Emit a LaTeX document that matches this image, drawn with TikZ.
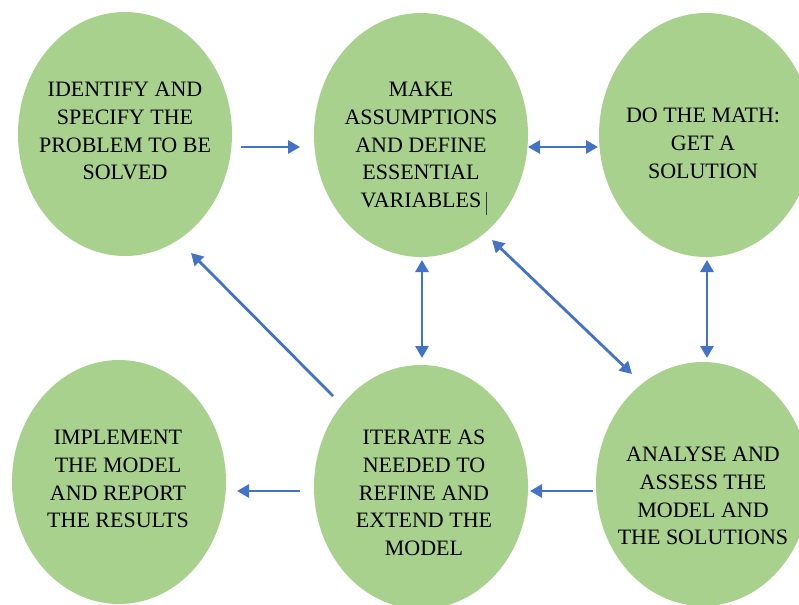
\documentclass[tikz,border=0pt]{standalone}
\usepackage{fontspec}
\setmainfont{Liberation Serif}
\usetikzlibrary{arrows.meta,shapes.geometric}
\definecolor{fillgreen}{HTML}{A9D18E}
\definecolor{arrowblue}{HTML}{4472C4}
\definecolor{cursorcol}{HTML}{3A3650}
\begin{document}
\begin{tikzpicture}[x=1pt,y=-1pt,
  bubble/.style={ellipse, fill=fillgreen, draw=none, minimum width=214pt, minimum height=244pt, inner sep=0pt},
  label text/.style={anchor=north, inner sep=0pt, align=center, text=black, font=\fontsize{22}{27.7}\selectfont},
  arr/.style={draw=arrowblue, line width=2.8pt, -{Triangle[length=12pt,width=13pt]}},
  darr/.style={draw=arrowblue, line width=2.8pt, {Triangle[length=12pt,width=13pt]}-{Triangle[length=12pt,width=13pt]}}]
\useasboundingbox (0,0) rectangle (799,604);
\fill[white] (0,0) rectangle (799,604);
% ellipses
\node[bubble] (e1) at (125,134) {};
\node[bubble] (e2) at (421,135) {};
\node[bubble] (e3) at (706,135) {};
\node[bubble] (e4) at (119,482) {};
\node[bubble] (e5) at (421,487) {};
\node[bubble] (e6) at (703,484) {};
% texts
\node[label text] (t1) at (125,82) {IDENTIFY AND\\SPECIFY THE\\PROBLEM TO BE\\SOLVED};
\node[label text] (t2) at (421,82) {MAKE\\ASSUMPTIONS\\AND DEFINE\\ESSENTIAL\\VARIABLES};
\node[label text] (t3) at (703,108) {DO THE MATH:\\GET A\\SOLUTION};
\node[label text] (t4) at (118,430) {IMPLEMENT\\THE MODEL\\AND REPORT\\THE RESULTS};
\node[label text] (t5) at (424,430) {ITERATE AS\\NEEDED TO\\REFINE AND\\EXTEND THE\\MODEL};
\node[label text] (t6) at (703,447) {ANALYSE AND\\ASSESS THE\\MODEL AND\\THE SOLUTIONS};
% text cursor
\coordinate (c1) at (486,192);
\coordinate (c2) at (486,215);
\draw[cursorcol, line width=0.9pt] (c1) -- (c2);
% arrow end points
\coordinate (a1s) at (241,147); \coordinate (a1e) at (300,147);
\coordinate (a2s) at (528,147); \coordinate (a2e) at (598,147);
\coordinate (a3s) at (333,396); \coordinate (a3e) at (191,253);
\coordinate (a4s) at (422,260); \coordinate (a4e) at (422,358);
\coordinate (a5s) at (492,240); \coordinate (a5e) at (632,374);
\coordinate (a6s) at (707,260); \coordinate (a6e) at (707,358);
\coordinate (a7s) at (593,491); \coordinate (a7e) at (530,491);
\coordinate (a8s) at (300,491); \coordinate (a8e) at (237,491);
\draw[arr] (a1s) -- (a1e);
\draw[darr] (a2s) -- (a2e);
\draw[arr] (a3s) -- (a3e);
\draw[darr] (a4s) -- (a4e);
\draw[darr] (a5s) -- (a5e);
\draw[darr] (a6s) -- (a6e);
\draw[arr] (a7s) -- (a7e);
\draw[arr] (a8s) -- (a8e);
\end{tikzpicture}
\end{document}
